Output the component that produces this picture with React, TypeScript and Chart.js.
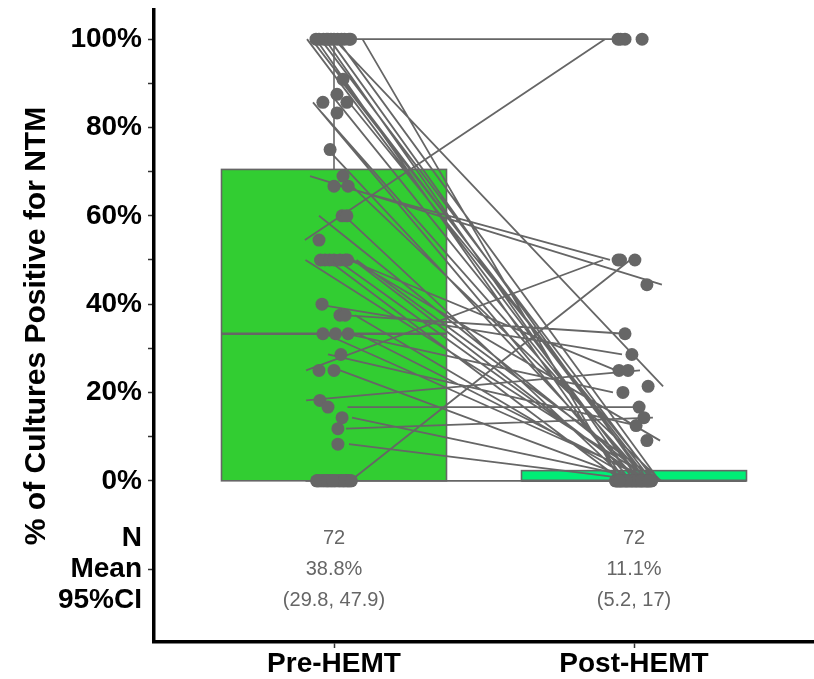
import React, { useEffect, useRef } from "react";
import { Chart, registerables } from "chart.js";

Chart.register(...registerables);

const categories = ["Pre-HEMT", "Post-HEMT"];

// paired values per patient (% of cultures positive)
const preValues = [
  100, 100, 100, 54.5, 25, 0, 66.7, 69, 37.5, 40, 50, 18.2, 100, 33.3, 16.7, 11.8, 28.6, 50,
  100, 100, 100, 100, 100, 100, 100, 100,
  90.9, 87.5, 85.7, 85.7, 83.3, 75, 66.7, 60, 60,
  50, 50, 50, 50, 50,
  37.5, 33.3, 33.3, 25, 14.3, 8.3,
  0, 0, 0, 0, 0, 0, 0, 0, 0, 0, 0, 0, 0, 0, 0, 0, 0, 0, 0, 0, 0, 0, 0, 0, 0, 0,
];
const postValues = [
  100, 100, 100, 100, 50, 50, 50, 44.4, 33.3, 28.6, 25, 25, 21.4, 20, 16.7, 14.3, 12.5, 9.1,
  0, 0, 0, 0, 0, 0, 0, 0, 0, 0, 0, 0, 0, 0, 0, 0, 0, 0, 0, 0, 0, 0, 0, 0, 0, 0, 0, 0,
  0, 0, 0, 0, 0, 0, 0, 0, 0, 0, 0, 0, 0, 0, 0, 0, 0, 0, 0, 0, 0, 0, 0, 0, 0, 0,
];

// horizontal jitter (category units)
const prePointJitter = [
  -0.05, -0.035, 0.05, -0.05, -0.05, 0.02, 0.047, 0.03, 0.02, -0.04, -0.045, -0.047, -0.02, -0.037, -0.02, 0.013, 0.023, 0.037,
  -0.06, -0.025, -0.01, 0.0, 0.012, 0.025, 0.035, 0.055,
  0.03, 0.01, -0.037, 0.043, 0.01, -0.013, 0.0, 0.027, 0.043,
  -0.03, -0.015, 0.0, 0.02, 0.045,
  0.037, 0.047, 0.005, 0.0, 0.027, 0.013,
  -0.058, -0.047, -0.036, -0.025, -0.012, 0.004, 0.018, 0.031, 0.044, 0.055, -0.052, -0.031, -0.008,
  0.012, 0.038, 0.05, -0.041, -0.018, 0.026, -0.056, 0.002, 0.047, -0.022, 0.033, -0.004, 0.058,
];
const postPointJitter = [
  -0.053, -0.03, 0.027, -0.045, -0.053, 0.003, -0.045, 0.043, -0.03, -0.007, -0.05, -0.02, 0.047, -0.037, 0.017, 0.033, 0.007, 0.043,
  -0.062, -0.055, -0.048, -0.04, -0.033, -0.026, -0.018, -0.011, -0.004, 0.003, 0.01, 0.017, 0.024, 0.031, 0.038, 0.045, 0.052, 0.059,
  -0.058, -0.044, -0.029, -0.015, 0, 0.014, 0.028, 0.043, 0.057, -0.051, -0.037, -0.022, -0.007, 0.007, 0.021, 0.036, 0.05, -0.06,
  -0.02, 0.02, -0.045, 0.045, -0.01, 0.01, 0.03, -0.03, 0.055, -0.055, 0.04, -0.04, 0.005, -0.005, 0.025, -0.025, 0.048, -0.048,
];
const preLineJitter = [
  0.04, 0.06, 0.07, -0.097, -0.093, 0.055, 0.02, -0.08, 0.03, -0.06, 0.05, -0.093, 0.0, 0.04, 0.045, 0.04, -0.02, 0.06,
  -0.09, -0.075, -0.06, -0.045, -0.03, -0.015, 0.01, 0.095,
  0.02, -0.01, -0.07, 0.05, -0.04, -0.02, 0.06, 0.035, -0.05,
  -0.095, 0.065, 0.075, -0.02, 0.01,
  0.07, -0.03, 0.08, 0.02, 0.06, 0.05,
  -0.09, -0.07, -0.05, -0.03, -0.01, 0.01, 0.03, 0.05, 0.07, 0.09, -0.08, -0.04, 0,
  0.04, 0.08, -0.06, -0.02, 0.02, 0.06, -0.095, 0.095, -0.035, 0.035, -0.065, 0.065, 0.015,
];
const postLineJitter = [
  -0.08, -0.07, -0.06, -0.097, -0.103, -0.013, -0.08, 0.093, -0.03, -0.04, -0.06, 0.02, 0.097, -0.07, 0.0, 0.063, 0.01, 0.087,
  0.02, 0.05, -0.03, 0.07, 0.0, 0.04, 0.085, -0.045, 0.06, 0.03, -0.01, 0.075, 0.045, 0.015, 0.09, -0.02,
  0.055, 0.065, 0.025, 0.08, -0.04, 0.035, 0.005, 0.07, 0.05, 0.01, 0.06, 0.04,
  -0.09, -0.06, -0.03, 0, 0.03, 0.06, 0.09, -0.08, -0.05, -0.02, 0.01, 0.04, 0.07,
  0.1, -0.07, -0.04, -0.01, 0.02, 0.05, 0.08, -0.095, 0.095, -0.015, 0.015, -0.055, 0.055,
];

// boxplot statistics
const boxQ1 = [0, 0];
const boxMedian = [33.3, 0];
const boxQ3 = [70.5, 2.3];
const whiskerLow = [0, 0];
const whiskerHigh = [100, 2.3];
const boxColors = ["#32CD32", "#00EE76"];

// summary table
const summaryN = ["72", "72"];
const summaryMean = ["38.8%", "11.1%"];
const summaryCI = ["(29.8, 47.9)", "(5.2, 17)"];
const summaryRowLabel = ["N", "Mean", "95%CI"];

const yTicks = [-20, 0, 10, 20, 30, 40, 50, 60, 70, 80, 90, 100];
const FONT = '"Liberation Sans", Arial, sans-serif';

const boxPlugin = {
  id: "boxes",
  beforeDatasetsDraw(chart: any) {
    const { ctx } = chart;
    const x = chart.scales.x;
    const y = chart.scales.y;
    const half = 0.375;
    categories.forEach((_, i) => {
      const cx = i + 1;
      const l = x.getPixelForValue(cx - half);
      const r = x.getPixelForValue(cx + half);
      const t = y.getPixelForValue(boxQ3[i]);
      const b = y.getPixelForValue(boxQ1[i]);
      const px = x.getPixelForValue(cx);
      ctx.save();
      ctx.strokeStyle = "#666666";
      ctx.lineWidth = 1.6;
      ctx.beginPath();
      ctx.moveTo(px, t);
      ctx.lineTo(px, y.getPixelForValue(whiskerHigh[i]));
      ctx.moveTo(px, b);
      ctx.lineTo(px, y.getPixelForValue(whiskerLow[i]));
      ctx.stroke();
      ctx.fillStyle = boxColors[i];
      ctx.fillRect(l, t, r - l, b - t);
      ctx.strokeRect(l, t, r - l, b - t);
      ctx.lineWidth = 2.6;
      ctx.beginPath();
      const m = y.getPixelForValue(boxMedian[i]);
      ctx.moveTo(l, m);
      ctx.lineTo(r, m);
      ctx.stroke();
      ctx.restore();
    });
  },
};

const summaryPlugin = {
  id: "summary",
  afterDraw(chart: any) {
    const { ctx } = chart;
    const x = chart.scales.x;
    const y = chart.scales.y;
    const base = y.getPixelForValue(-20);
    ctx.save();
    ctx.fillStyle = "#666666";
    ctx.font = `20px ${FONT}`;
    ctx.textAlign = "center";
    ctx.textBaseline = "middle";
    categories.forEach((_, i) => {
      const px = x.getPixelForValue(i + 1);
      const rows = [summaryN[i], summaryMean[i], summaryCI[i]];
      rows.forEach((txt, k) => {
        ctx.fillText(txt, px, base + (k - 1) * 31);
      });
    });
    ctx.restore();
  },
};

export default function App() {
  const ref = useRef<HTMLCanvasElement | null>(null);
  useEffect(() => {
    if (!ref.current) return;
    const linePts: any[] = [];
    preValues.forEach((v, i) => {
      linePts.push({ x: 1 + preLineJitter[i], y: v });
      linePts.push({ x: 2 + postLineJitter[i], y: postValues[i] });
      linePts.push({ x: 1.5, y: null });
    });
    const pointPts: any[] = [];
    preValues.forEach((v, i) => pointPts.push({ x: 1 + prePointJitter[i], y: v }));
    postValues.forEach((v, i) => pointPts.push({ x: 2 + postPointJitter[i], y: v }));

    const chart = new Chart(ref.current, {
      type: "scatter",
      data: {
        datasets: [
          {
            data: pointPts,
            pointRadius: 6.5,
            pointBackgroundColor: "#666666",
            pointBorderWidth: 0,
            showLine: false,
          } as any,
          {
            data: linePts,
            showLine: true,
            spanGaps: false,
            pointRadius: 0,
            borderColor: "#666666",
            borderWidth: 1.8,
          } as any,
        ],
      },
      options: {
        responsive: false,
        animation: false,
        layout: { autoPadding: false, padding: { top: 10, left: 0, right: 0, bottom: 0 } },
        plugins: { legend: { display: false }, tooltip: { enabled: false } },
        scales: {
          x: {
            type: "linear",
            min: 0.4,
            max: 2.6,
            afterBuildTicks: (s: any) => {
              s.ticks = [{ value: 1 }, { value: 2 }];
            },
            afterFit: (s: any) => {
              s.height = 37;
              s.paddingLeft = 0;
              s.paddingRight = 0;
            },
            ticks: {
              callback: (v: any) => (v === 1 ? categories[0] : v === 2 ? categories[1] : ""),
              font: { family: FONT, size: 28, weight: "bold", lineHeight: 1.15 },
              color: "#000",
              padding: 0,
              maxRotation: 0,
              autoSkip: false,
            },
            grid: { drawOnChartArea: false, drawTicks: true, tickLength: 6, tickColor: "#333", tickWidth: 1.5 },
            border: { display: true, color: "#000", width: 3.5 },
          },
          y: {
            type: "linear",
            min: -36.5,
            max: 106.6,
            afterBuildTicks: (s: any) => {
              s.ticks = yTicks.map((v) => ({ value: v }));
            },
            afterFit: (s: any) => {
              s.width = 154;
              s.paddingTop = 0;
              s.paddingBottom = 0;
            },
            ticks: {
              callback: (v: any) =>
                v === -20 ? summaryRowLabel : v % 20 === 0 ? `${v}%` : "",
              font: { family: FONT, size: 28, weight: "bold", lineHeight: 1.1 },
              color: "#000",
              padding: 6,
              autoSkip: false,
            },
            grid: { drawOnChartArea: false, drawTicks: true, tickLength: 6, tickColor: "#333", tickWidth: 1.5 },
            border: { display: true, color: "#000", width: 3.5 },
            title: {
              display: true,
              text: "% of Cultures Positive for NTM",
              font: { family: FONT, size: 30, weight: "bold", lineHeight: 1.2 },
              color: "#000",
              padding: { top: 19, bottom: 0 },
            },
          },
        },
      },
      plugins: [boxPlugin, summaryPlugin],
    });
    return () => chart.destroy();
  }, []);

  return (
    <div style={{ position: "fixed", left: 0, top: 0, width: 814, height: 679, background: "#fff" }}>
      <canvas ref={ref} width={814} height={679} style={{ width: 814, height: 679 }} />
    </div>
  );
}
